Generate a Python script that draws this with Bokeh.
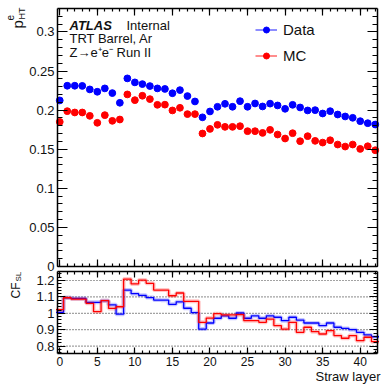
import numpy as np
from bokeh.plotting import figure
from bokeh.models import (Range1d, SingleIntervalTicker, LinearAxis, Label, Legend,
                          LegendItem, ColumnDataSource, CustomJSTickFormatter)
from bokeh.embed import file_html
from bokeh.resources import INLINE

FONT = "Liberation Sans"
BLUE = "#0000ff"
RED = "#ff0000"
TXT = "#111111"

# ---------------- data ----------------
layers = list(range(43))
data_pht = [0.2124, 0.2312, 0.2312, 0.2310, 0.2265, 0.2235, 0.2278, 0.2218, 0.2094, 0.2406,
            0.2355, 0.2333, 0.2308, 0.2278, 0.2271, 0.2216, 0.2256, 0.2180, 0.2111, 0.1908,
            0.1983, 0.2043, 0.2081, 0.2043, 0.2115, 0.2043, 0.2085, 0.2047, 0.2083, 0.2060,
            0.2017, 0.2068, 0.2034, 0.1996, 0.2000, 0.1957, 0.1987, 0.1944, 0.1919, 0.1902,
            0.1859, 0.1833, 0.1816]
mc_pht = [0.1850, 0.1987, 0.1970, 0.1970, 0.1927, 0.1838, 0.1936, 0.1863, 0.1880, 0.2201,
          0.2128, 0.2184, 0.2141, 0.2068, 0.2070, 0.1996, 0.2030, 0.1949, 0.1949, 0.1701,
          0.1760, 0.1812, 0.1786, 0.1786, 0.1795, 0.1731, 0.1731, 0.1709, 0.1748, 0.1688,
          0.1637, 0.1705, 0.1603, 0.1667, 0.1607, 0.1585, 0.1615, 0.1560, 0.1534, 0.1560,
          0.1504, 0.1538, 0.1487]
data_cf = [1.006, 1.095, 1.091, 1.091, 1.067, 1.067, 1.077, 1.052, 0.995, 1.142,
           1.120, 1.110, 1.096, 1.081, 1.080, 1.055, 1.070, 1.031, 1.004, 0.904,
           0.941, 0.970, 0.985, 0.970, 1.002, 0.970, 0.985, 0.970, 0.985, 0.976,
           0.955, 0.976, 0.959, 0.941, 0.941, 0.925, 0.941, 0.915, 0.908, 0.900,
           0.884, 0.868, 0.857]
mc_cf = [1.022, 1.095, 1.087, 1.087, 1.061, 1.010, 1.077, 1.030, 1.040, 1.209,
         1.179, 1.203, 1.183, 1.142, 1.142, 1.107, 1.124, 1.073, 1.073, 0.945,
         0.971, 0.998, 0.990, 0.990, 0.992, 0.955, 0.955, 0.945, 0.965, 0.925,
         0.904, 0.945, 0.884, 0.915, 0.888, 0.874, 0.894, 0.864, 0.848, 0.864,
         0.833, 0.854, 0.827]
cf_grid = [0.8, 0.9, 1.0, 1.1, 1.2]

series_names = ["Data", "MC"]
info_lines = ["TRT Barrel, Ar", "Z\u2192e\u207ae\u207b Run II"]

# ---------------- layout geometry (pixels) ----------------
W, H = 381, 384
BOX_L, BOX_R = 57, 377
TOP_T, TOP_B = 8, 266
RAT_T, RAT_B = 271, 353

X_LO, X_HI = -0.3, 42.3
Y_LO, Y_HI = 0.0, 0.33
R_LO, R_HI = 0.755, 1.255

kx = (BOX_R - BOX_L) / (X_HI - X_LO)
ky = (TOP_B - TOP_T) / (Y_HI - Y_LO)
kr = (RAT_B - RAT_T) / (R_HI - R_LO)
x_range = Range1d(X_LO - BOX_L / kx, X_HI + (W - BOX_R) / kx)
y_range = Range1d(Y_LO - (H - TOP_B) / ky, Y_HI + TOP_T / ky)
ratio_range = Range1d(R_LO - (H - RAT_B) / kr, R_HI + RAT_T / kr)

p = figure(width=W, height=H, x_range=x_range, y_range=y_range,
           x_axis_type=None, y_axis_type=None, output_backend="svg", toolbar_location=None,
           min_border=0, min_border_left=0, min_border_right=0, min_border_top=0,
           min_border_bottom=0)
p.outline_line_color = None
p.background_fill_color = "white"
p.border_fill_color = "white"
p.extra_y_ranges = {"ratio": ratio_range}

fmt = CustomJSTickFormatter(code="""
    return tick.toFixed(2).replace(/0+$/, '').replace(/\\.$/, '');
""")


def add_axis(place, interval, loc, bounds, tick_in, minor_in, labels,
             range_name="default", size="13px", formatter=None):
    ax = LinearAxis(fixed_location=loc, bounds=bounds, y_range_name=range_name,
                    ticker=SingleIntervalTicker(interval=interval, num_minor_ticks=5))
    ax.major_tick_in = tick_in
    ax.major_tick_out = 0
    ax.minor_tick_in = minor_in
    ax.minor_tick_out = 0
    ax.axis_line_color = "black"
    ax.axis_line_width = 1.5
    ax.major_tick_line_color = "black"
    ax.minor_tick_line_color = "black"
    ax.major_tick_line_width = 1.2
    ax.minor_tick_line_width = 1.2
    if formatter is not None:
        ax.formatter = formatter
    if labels:
        ax.major_label_text_font = FONT
        ax.major_label_text_font_size = size
        ax.major_label_text_color = TXT
        ax.major_label_standoff = 3
    else:
        ax.major_label_text_color = None
        ax.major_label_standoff = 0
    p.add_layout(ax, place)
    return ax


# top panel frame
add_axis("left", 0.05, X_LO, (Y_LO, Y_HI), 10, 5, True, formatter=fmt)
add_axis("right", 0.05, X_HI, (Y_LO, Y_HI), 10, 5, False)
add_axis("below", 5, Y_LO, (X_LO, X_HI), 7, 3, False)
add_axis("above", 5, Y_HI, (X_LO, X_HI), 7, 3, False)
# ratio panel frame
add_axis("left", 0.1, X_LO, (R_LO, R_HI), 8, 4, True, range_name="ratio", formatter=fmt)
add_axis("right", 0.1, X_HI, (R_LO, R_HI), 8, 4, False, range_name="ratio")
add_axis("below", 5, R_LO, (X_LO, X_HI), 6, 3, True, range_name="ratio", size="12px")
add_axis("above", 5, R_HI, (X_LO, X_HI), 6, 3, False, range_name="ratio")

# ---------------- top panel marks ----------------
src = ColumnDataSource(dict(layer=layers, data=data_pht, mc=mc_pht))
r_data = p.scatter("layer", "data", source=src, size=6.8, color=BLUE)
r_mc = p.scatter("layer", "mc", source=src, size=6.8, color=RED)
l_data = p.line(x=np.array([np.nan]), y=np.array([np.nan]), color=BLUE, line_width=1.5,
                line_alpha=0.6)
l_mc = p.line(x=np.array([np.nan]), y=np.array([np.nan]), color=RED, line_width=1.5,
              line_alpha=0.6)

legend = Legend(items=[LegendItem(label=series_names[0], renderers=[l_data, r_data]),
                       LegendItem(label=series_names[1], renderers=[l_mc, r_mc])],
                location=(255, H - 64), glyph_width=22, glyph_height=15, label_height=15,
                spacing=9, label_standoff=6, padding=0, margin=0,
                border_line_alpha=0, background_fill_alpha=0,
                label_text_font=FONT, label_text_font_size="15px", label_text_color=TXT)
p.add_layout(legend)

DY = 4   # baseline correction for unrotated labels
DX = -3  # baseline correction for rotated labels


def add_text(x, y, text, size, angle=0.0, align="left", style="normal"):
    p.add_layout(Label(x=x, y=y, x_units="screen", y_units="screen", text=text,
                       angle=angle, text_align=align, text_baseline="alphabetic",
                       text_font=FONT, text_font_size=size, text_font_style=style,
                       text_color=TXT))


add_text(69, H - 29 + DY, "ATLAS", "13px", style="bold italic")
add_text(126, H - 29 + DY, "Internal", "13px")
for i, line in enumerate(info_lines):
    add_text(69, H - 42 - 14 * i + DY, line, "13px")

# y axis title p^e_HT
add_text(20 + DX, H - 28, "p", "15px", angle=np.pi / 2)
add_text(12.5 + DX, H - 20, "e", "10px", angle=np.pi / 2)
add_text(24 + DX, H - 19, "HT", "9px", angle=np.pi / 2)

# ---------------- ratio panel marks ----------------
p.segment(x0=X_LO, x1=X_HI, y0=cf_grid, y1=cf_grid, y_range_name="ratio",
          line_color="#444444", line_dash="1 2", line_width=1.2)

edges = [l - 0.5 for l in layers] + [layers[-1] + 0.5]
data_steps = data_cf + [data_cf[-1]]
mc_steps = mc_cf + [mc_cf[-1]]
p.step(edges, data_steps, mode="after", line_width=4, color=BLUE, line_alpha=0.22,
       y_range_name="ratio")
p.step(edges, data_steps, mode="after", line_width=1.3, color=BLUE, y_range_name="ratio")
p.step(edges, mc_steps, mode="after", line_width=4, color=RED, line_alpha=0.22,
       y_range_name="ratio")
p.step(edges, mc_steps, mode="after", line_width=1.3, color=RED, y_range_name="ratio")

add_text(18 + DX, H - 298, "CF", "12px", angle=np.pi / 2)
add_text(21 + DX, H - 281, "SL", "8px", angle=np.pi / 2)
add_text(380, H - 380 + DY, "Straw layer", "13px", align="right")

open("out.html", "w").write(file_html(p, INLINE))
